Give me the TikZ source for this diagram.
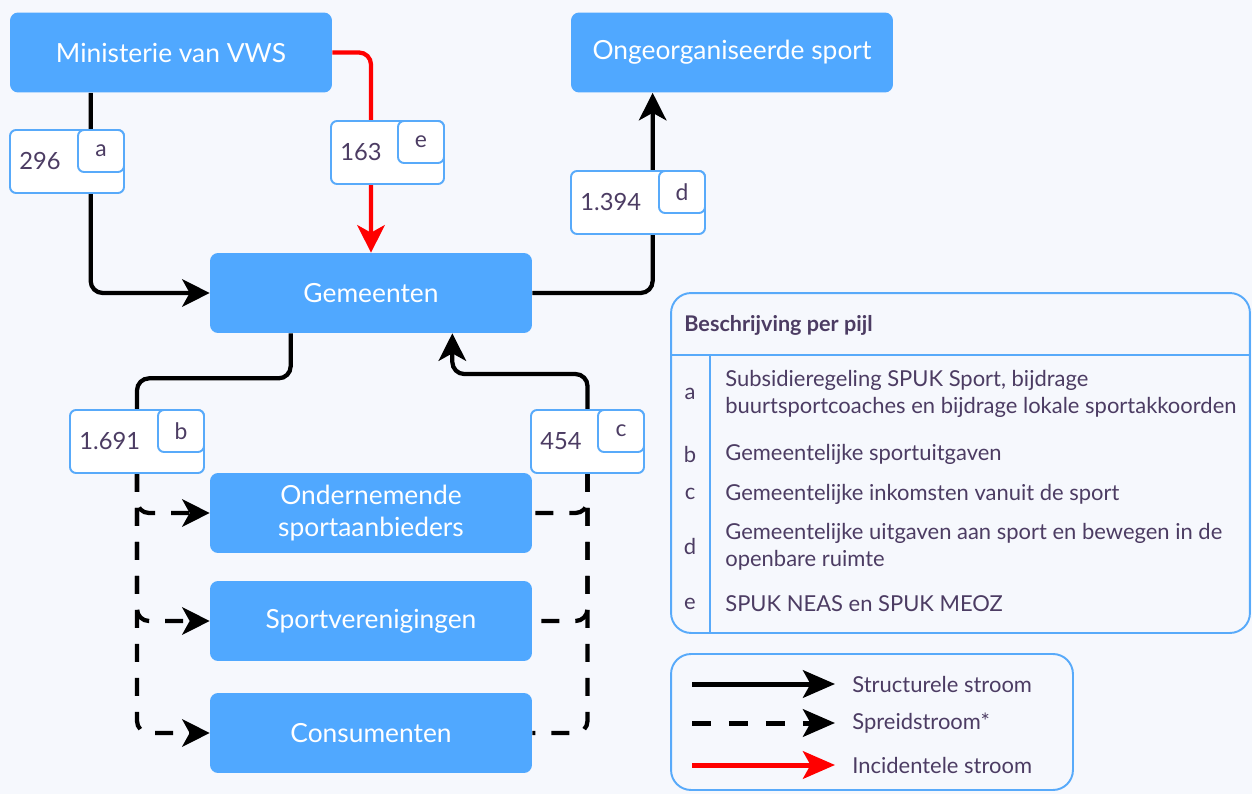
\documentclass[tikz,border=0pt]{standalone}
\usepackage{fontspec}
\setmainfont{Lato}
\usetikzlibrary{arrows.meta}
\definecolor{pagebg}{RGB}{246,248,253}
\definecolor{boxblue}{RGB}{80,168,255}
\definecolor{rimblue}{RGB}{88,170,250}
\definecolor{inkpurple}{RGB}{76,60,99}
\pgfdeclarelayer{bg}
\pgfdeclarelayer{lines}
\pgfsetlayers{bg,lines,main}

\begin{document}
\begin{tikzpicture}[x=0.02cm,y=-0.02cm,
	party/.style={fill=boxblue,rounded corners=0.16cm,minimum width=6.44cm,
		minimum height=1.6cm,text=white,align=center,
		font=\fontsize{15}{18}\selectfont},
	numbox/.style={draw=rimblue,line width=1.1pt,fill=white,
		rounded corners=0.12cm,minimum height=1.26cm},
	keybox/.style={draw=rimblue,line width=1.1pt,fill=white,
		rounded corners=0.12cm,minimum width=0.92cm,minimum height=0.84cm,
		text=inkpurple,font=\fontsize{13}{15}\selectfont},
	numtext/.style={inner sep=0pt,text=inkpurple,font=\fontsize{13.5}{15}\selectfont},
	legtext/.style={inner sep=0pt,text=inkpurple,align=left,
		font=\fontsize{12.5}{15.4}\selectfont},
	flowline/.style={line width=0.085cm,rounded corners=0.24cm},
	flow/.style={flowline,-{Stealth[length=0.55cm,width=0.55cm,inset=0.15cm]}},
	spreadline/.style={flowline,dash pattern=on 0.36cm off 0.32cm},
	spread/.style={spreadline,-{Stealth[length=0.55cm,width=0.55cm,inset=0.15cm]}},
	keyarrow/.style={line width=0.1cm,-{Stealth[length=0.64cm,width=0.55cm,inset=0.15cm]}},
	keydash/.style={dash pattern=on 0.38cm off 0.36cm}]

\useasboundingbox (0,0) rectangle (1252,794);
\begin{pgfonlayer}{bg}
	\fill[pagebg] (0,0) rectangle (1252,794);
\end{pgfonlayer}

% Actors
\node[party] (min) at (171,52.5) {Ministerie van VWS};
\node[party] (ong) at (732,52.5) {Ongeorganiseerde sport};
\node[party] (gem) at (371,293) {Gemeenten};
\node[party] (ond) at (371,513) {Ondernemende\\sportaanbieders};
\node[party] (sv) at (371,621) {Sportverenigingen};
\node[party] (cons) at (371,733) {Consumenten};

% Amounts with their key letter
\foreach \n/\x/\y/\w/\v/\k in {la/67/161.5/2.28/296/a,le/387.5/152.5/2.26/163/e,
	ld/638/202.5/2.68/1.394/d,lb/137/441.5/2.68/1.691/b,lc/587.5/441.5/2.26/454/c} {
	\node[numbox,minimum width=\w cm] (\n) at (\x,\y) {};
	\node[keybox,anchor=north east] (\n-key) at (\n.north east) {\k};
	\node[numtext,anchor=west] (\n-val) at ([xshift=0.2cm]\n.west) {\v};
}

\begin{pgfonlayer}{lines}
	% Structural flows
	\draw[flow] ([xshift=1.62cm]min.south west) |- (gem.west);
	\draw[flow] (gem.east) -| ([xshift=1.64cm]ong.south west);
	\draw[flowline] ([xshift=1.62cm]gem.south west) -- ++(0,-0.9cm) -| (lb.north);
	\draw[flow] (lc.north) -- ++(0,0.7cm) -| ([xshift=-1.6cm]gem.south east);
	% Incidental flow
	\draw[flow,red] (min.east) -| (gem.north);
	% Spread flows
	\foreach \t in {ond,sv,cons} {
		\draw[spread] (lb.south) |- (\t.west);
		\draw[spreadline] (lc.south) |- (\t.east);
	}
\end{pgfonlayer}

% Description per arrow
\node[draw=rimblue,line width=1.1pt,rounded corners=0.4cm,minimum width=11.58cm,
	minimum height=6.8cm] (desc) at (960.5,463) {};
\node[legtext,font=\fontsize{12.3}{14}\selectfont\bfseries,anchor=west]
	(desc-head) at (684,325) {Beschrijving per pijl};
\draw[rimblue,line width=1.1pt] (desc.west |- 0,355) -- (desc.east |- 0,355);
\draw[rimblue,line width=1.1pt] (710,355) -- (desc.south -| 710,0);
\foreach \k/\y/\t in {a/394/{Subsidieregeling SPUK Sport, bijdrage\\buurtsportcoaches en bijdrage lokale sportakkoorden},
	b/454/{Gemeentelijke sportuitgaven},c/494/{Gemeentelijke inkomsten vanuit de sport},
	d/546.5/{Gemeentelijke uitgaven aan sport en bewegen in de\\openbare ruimte},
	e/604/{SPUK NEAS en SPUK MEOZ}} {
	\node[legtext] (row-\k) at (690,\y) {\k};
	\node[legtext,anchor=west] (row-\k-text) at (725,\y) {\t};
}

% Line types
\node[draw=rimblue,line width=1.1pt,rounded corners=0.4cm,minimum width=8.04cm,
	minimum height=2.72cm] (types) at (872,722) {};
\foreach \s/\y/\t/\c in {s1/684/{Structurele stroom}/solid,
	s2/723/{Spreidstroom*}/keydash,
	s3/765/{Incidentele stroom}/red} {
	\node[legtext,anchor=west] (\s) at (852,\y) {\t};
	\coordinate (\s-start) at (692,\y);
	\draw[keyarrow,\c,shorten >=0.34cm] (\s-start) -- (\s);
}
\end{tikzpicture}
\end{document}
